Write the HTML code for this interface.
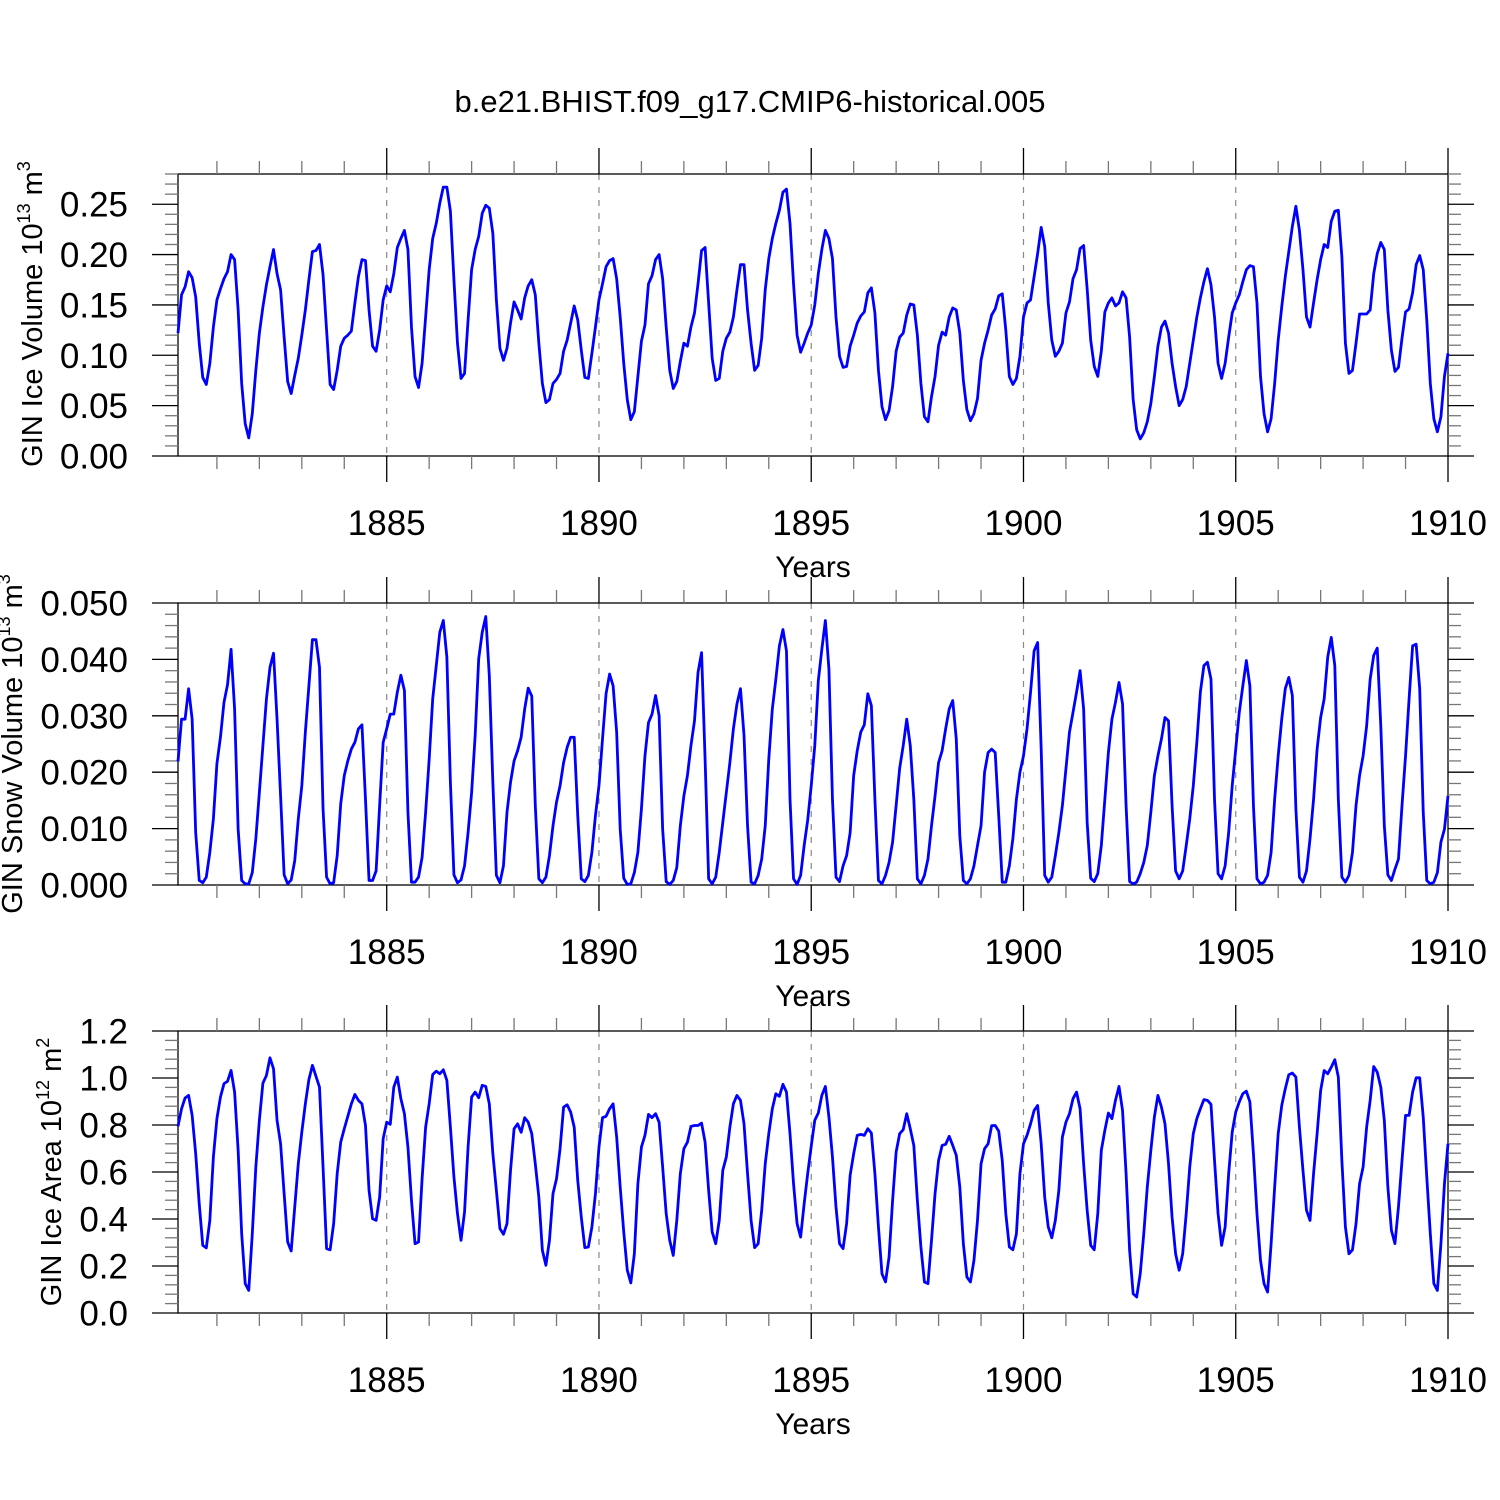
<!DOCTYPE html>
<html><head><meta charset="utf-8">
<style>
html,body{margin:0;padding:0;background:#fff;}
svg{display:block;font-family:"Liberation Sans",Arial,sans-serif;}
</style></head>
<body>
<svg id="chart" width="1500" height="1500" viewBox="0 0 1500 1500" xmlns="http://www.w3.org/2000/svg">
<rect x="0" y="0" width="1500" height="1500" fill="#fff"/>
<text x="750" y="112" font-size="31" text-anchor="middle">b.e21.BHIST.f09_g17.CMIP6-historical.005</text>
<g id="panels"></g>
</svg>
<script>
const iceVolume = [0.122,0.160,0.168,0.183,0.177,0.158,0.112,0.078,0.071,0.092,0.128,0.155,
0.166,0.176,0.183,0.200,0.195,0.145,0.072,0.032,0.018,0.042,0.085,0.122,
0.148,0.170,0.188,0.205,0.181,0.165,0.118,0.074,0.062,0.080,0.097,0.120,
0.145,0.175,0.203,0.204,0.210,0.180,0.125,0.071,0.066,0.085,0.109,0.117,
0.120,0.124,0.152,0.178,0.195,0.194,0.145,0.109,0.104,0.125,0.155,0.169,
0.163,0.181,0.207,0.216,0.224,0.205,0.128,0.079,0.068,0.092,0.138,0.185,
0.216,0.231,0.251,0.267,0.267,0.243,0.175,0.112,0.077,0.082,0.135,0.185,
0.205,0.218,0.241,0.249,0.246,0.221,0.155,0.107,0.095,0.107,0.132,0.153,
0.145,0.136,0.157,0.169,0.175,0.160,0.112,0.072,0.053,0.056,0.072,0.076,
0.082,0.104,0.115,0.132,0.149,0.135,0.105,0.078,0.077,0.102,0.128,0.155,
0.171,0.188,0.194,0.196,0.176,0.138,0.092,0.056,0.036,0.044,0.079,0.114,
0.130,0.171,0.179,0.195,0.200,0.176,0.128,0.085,0.067,0.074,0.094,0.112,
0.109,0.128,0.142,0.171,0.204,0.207,0.152,0.097,0.075,0.077,0.104,0.117,
0.123,0.138,0.165,0.190,0.190,0.145,0.112,0.085,0.090,0.117,0.165,0.196,
0.216,0.231,0.244,0.262,0.265,0.231,0.171,0.120,0.103,0.112,0.122,0.130,
0.150,0.181,0.205,0.224,0.216,0.196,0.138,0.099,0.088,0.089,0.109,0.120,
0.132,0.139,0.143,0.162,0.167,0.142,0.085,0.049,0.036,0.045,0.069,0.104,
0.118,0.122,0.140,0.151,0.150,0.120,0.072,0.039,0.034,0.059,0.079,0.110,
0.123,0.120,0.138,0.147,0.145,0.122,0.075,0.046,0.035,0.042,0.057,0.095,
0.112,0.125,0.140,0.146,0.159,0.161,0.125,0.079,0.071,0.077,0.099,0.138,
0.152,0.155,0.178,0.201,0.227,0.208,0.152,0.115,0.099,0.104,0.112,0.142,
0.153,0.176,0.185,0.206,0.209,0.166,0.115,0.089,0.079,0.104,0.143,0.152,
0.157,0.149,0.152,0.163,0.157,0.118,0.056,0.026,0.017,0.023,0.034,0.052,
0.079,0.109,0.128,0.134,0.122,0.092,0.069,0.050,0.056,0.069,0.092,0.115,
0.138,0.157,0.173,0.186,0.170,0.138,0.092,0.077,0.092,0.118,0.142,0.152,
0.160,0.173,0.185,0.189,0.188,0.152,0.079,0.042,0.024,0.037,0.072,0.115,
0.148,0.178,0.203,0.228,0.248,0.224,0.185,0.138,0.128,0.152,0.175,0.195,
0.210,0.207,0.233,0.243,0.244,0.198,0.112,0.082,0.085,0.112,0.141,0.141,
0.141,0.145,0.181,0.201,0.212,0.205,0.145,0.105,0.084,0.088,0.117,0.143,
0.146,0.162,0.190,0.199,0.185,0.135,0.072,0.037,0.024,0.039,0.079,0.102];

const snowVolume = [0.0219,0.0294,0.0294,0.0348,0.0294,0.0093,0.0008,0.0004,0.0014,0.0058,0.0117,0.0215,
0.0262,0.0324,0.0355,0.0418,0.0312,0.0099,0.0008,0.0002,0.0002,0.0022,0.0082,0.0164,
0.0247,0.0330,0.0386,0.0411,0.0294,0.0158,0.0018,0.0002,0.0009,0.0043,0.0117,0.0176,
0.0271,0.0353,0.0435,0.0435,0.0386,0.0135,0.0014,0.0002,0.0004,0.0052,0.0144,0.0194,
0.0220,0.0241,0.0253,0.0277,0.0284,0.0152,0.0008,0.0008,0.0025,0.0141,0.0253,0.0277,
0.0303,0.0303,0.0342,0.0372,0.0345,0.0129,0.0005,0.0005,0.0014,0.0049,0.0129,0.0223,
0.0330,0.0389,0.0448,0.0469,0.0404,0.0182,0.0018,0.0004,0.0009,0.0034,0.0093,0.0164,
0.0265,0.0401,0.0448,0.0476,0.0371,0.0182,0.0017,0.0004,0.0034,0.0129,0.0182,0.0220,
0.0238,0.0262,0.0312,0.0349,0.0335,0.0141,0.0011,0.0004,0.0014,0.0052,0.0105,0.0147,
0.0176,0.0217,0.0244,0.0262,0.0262,0.0123,0.0011,0.0006,0.0017,0.0058,0.0123,0.0176,
0.0259,0.0339,0.0374,0.0353,0.0271,0.0099,0.0012,0.0001,0.0002,0.0022,0.0058,0.0135,
0.0229,0.0288,0.0303,0.0336,0.0300,0.0099,0.0006,0.0001,0.0008,0.0031,0.0105,0.0158,
0.0194,0.0247,0.0291,0.0377,0.0412,0.0223,0.0011,0.0002,0.0014,0.0058,0.0111,0.0164,
0.0217,0.0277,0.0321,0.0348,0.0265,0.0105,0.0005,0.0002,0.0017,0.0046,0.0105,0.0223,
0.0312,0.0365,0.0424,0.0453,0.0415,0.0152,0.0011,0.0001,0.0017,0.0070,0.0115,0.0176,
0.0247,0.0362,0.0418,0.0469,0.0383,0.0152,0.0014,0.0006,0.0034,0.0052,0.0093,0.0194,
0.0238,0.0271,0.0284,0.0339,0.0318,0.0152,0.0008,0.0002,0.0017,0.0040,0.0076,0.0141,
0.0207,0.0247,0.0294,0.0247,0.0152,0.0011,0.0002,0.0017,0.0046,0.0105,0.0158,0.0217,
0.0238,0.0277,0.0312,0.0327,0.0259,0.0087,0.0008,0.0002,0.0011,0.0034,0.0070,0.0105,
0.0200,0.0235,0.0241,0.0235,0.0123,0.0005,0.0005,0.0034,0.0082,0.0152,0.0200,0.0229,
0.0277,0.0342,0.0415,0.0430,0.0241,0.0017,0.0005,0.0014,0.0052,0.0093,0.0141,0.0206,
0.0271,0.0306,0.0342,0.0380,0.0312,0.0111,0.0012,0.0006,0.0020,0.0070,0.0152,0.0235,
0.0294,0.0324,0.0359,0.0321,0.0141,0.0006,0.0002,0.0005,0.0020,0.0040,0.0070,0.0129,
0.0194,0.0229,0.0259,0.0297,0.0291,0.0141,0.0025,0.0011,0.0025,0.0070,0.0117,0.0176,
0.0253,0.0342,0.0389,0.0395,0.0365,0.0152,0.0020,0.0011,0.0034,0.0093,0.0176,0.0241,
0.0306,0.0353,0.0398,0.0353,0.0141,0.0011,0.0002,0.0005,0.0017,0.0058,0.0152,0.0229,
0.0294,0.0348,0.0368,0.0336,0.0135,0.0014,0.0005,0.0025,0.0082,0.0152,0.0241,0.0297,
0.0330,0.0404,0.0439,0.0389,0.0152,0.0014,0.0005,0.0017,0.0058,0.0141,0.0194,0.0229,
0.0282,0.0365,0.0407,0.0420,0.0282,0.0105,0.0018,0.0008,0.0028,0.0046,0.0141,0.0229,
0.0330,0.0424,0.0427,0.0348,0.0129,0.0008,0.0002,0.0005,0.0022,0.0076,0.0099,0.0158];

const iceArea = [0.794,0.869,0.915,0.926,0.841,0.678,0.465,0.288,0.277,0.394,0.664,0.827,
0.919,0.976,0.986,1.032,0.940,0.692,0.337,0.125,0.096,0.337,0.621,0.820,
0.978,1.011,1.086,1.039,0.820,0.720,0.508,0.302,0.264,0.451,0.635,0.770,
0.890,0.993,1.054,1.007,0.961,0.621,0.274,0.269,0.380,0.593,0.727,0.784,
0.837,0.890,0.930,0.905,0.890,0.798,0.522,0.401,0.394,0.493,0.742,0.812,
0.803,0.961,1.004,0.912,0.848,0.706,0.479,0.295,0.302,0.571,0.791,0.890,
1.015,1.029,1.018,1.035,0.990,0.791,0.579,0.423,0.309,0.430,0.706,0.919,
0.940,0.916,0.969,0.964,0.890,0.678,0.522,0.359,0.335,0.380,0.607,0.784,
0.805,0.769,0.831,0.812,0.763,0.635,0.493,0.267,0.203,0.309,0.508,0.571,
0.699,0.876,0.886,0.855,0.791,0.564,0.408,0.278,0.281,0.366,0.508,0.706,
0.831,0.837,0.869,0.890,0.749,0.536,0.345,0.182,0.128,0.252,0.550,0.706,
0.756,0.845,0.831,0.848,0.812,0.621,0.423,0.309,0.245,0.394,0.593,0.699,
0.727,0.794,0.798,0.798,0.808,0.727,0.522,0.345,0.295,0.394,0.607,0.664,
0.791,0.890,0.926,0.905,0.805,0.593,0.394,0.278,0.295,0.437,0.635,0.763,
0.869,0.933,0.922,0.973,0.940,0.763,0.550,0.380,0.323,0.465,0.593,0.710,
0.820,0.851,0.926,0.964,0.834,0.664,0.451,0.295,0.274,0.380,0.586,0.678,
0.756,0.760,0.756,0.784,0.766,0.593,0.366,0.167,0.132,0.238,0.479,0.685,
0.763,0.780,0.848,0.784,0.713,0.479,0.281,0.132,0.125,0.309,0.508,0.649,
0.713,0.718,0.752,0.713,0.671,0.536,0.295,0.153,0.132,0.224,0.394,0.635,
0.699,0.720,0.797,0.798,0.774,0.649,0.423,0.281,0.269,0.337,0.593,0.720,
0.756,0.805,0.862,0.883,0.720,0.493,0.366,0.320,0.394,0.522,0.749,0.812,
0.848,0.912,0.940,0.869,0.635,0.437,0.288,0.269,0.423,0.692,0.777,0.851,
0.827,0.905,0.964,0.862,0.593,0.267,0.082,0.068,0.167,0.337,0.536,0.692,
0.834,0.926,0.876,0.805,0.635,0.408,0.252,0.182,0.252,0.423,0.621,0.763,
0.827,0.869,0.908,0.905,0.888,0.649,0.423,0.288,0.366,0.593,0.770,0.855,
0.898,0.933,0.944,0.898,0.678,0.423,0.224,0.125,0.089,0.295,0.536,0.763,
0.883,0.954,1.014,1.021,1.004,0.791,0.607,0.437,0.394,0.593,0.763,0.947,
1.032,1.018,1.046,1.078,1.004,0.649,0.366,0.252,0.269,0.380,0.550,0.621,
0.791,0.905,1.049,1.025,0.961,0.820,0.536,0.352,0.295,0.451,0.649,0.841,
0.841,0.940,1.001,1.001,0.834,0.579,0.337,0.125,0.096,0.295,0.550,0.720];

const xTickYears = [1885, 1890, 1895, 1900, 1905, 1910];
const volTicks = [0.00, 0.05, 0.10, 0.15, 0.20, 0.25];
const volLabels = ["0.00","0.05","0.10","0.15","0.20","0.25"];
const snowTicks = [0, 0.01, 0.02, 0.03, 0.04, 0.05];
const snowLabels = ["0.000","0.010","0.020","0.030","0.040","0.050"];
const areaTicks = [0, 0.2, 0.4, 0.6, 0.8, 1.0, 1.2];
const areaLabels = ["0.0","0.2","0.4","0.6","0.8","1.0","1.2"];

const NS = "http://www.w3.org/2000/svg";
const X0 = 178, X1 = 1448, T0 = 1880 + 1/12, T1 = 1910;
function xScale(t){ return X0 + (t - T0) / (T1 - T0) * (X1 - X0); }
function timeOf(i){ return 1880 + (i + 1) / 12; }
function mk(tag, attrs, parent){
  const e = document.createElementNS(NS, tag);
  for (const k in attrs) e.setAttribute(k, attrs[k]);
  parent.appendChild(e);
  return e;
}
const root = document.getElementById('panels');

const panels = [
  {key:'ice-volume', top:174, ymax:0.28, minor:0.01, data:iceVolume, ticks:volTicks, labels:volLabels,
   titleX:42, titleY:314, base:'GIN Ice Volume 10', sup1:'13', unit:' m', sup2:'3', labelX:128},
  {key:'snow-volume', top:603, ymax:0.05, minor:0.002, data:snowVolume, ticks:snowTicks, labels:snowLabels,
   titleX:22, titleY:744, base:'GIN Snow Volume 10', sup1:'13', unit:' m', sup2:'3', labelX:128},
  {key:'ice-area', top:1031, ymax:1.2, minor:0.04, data:iceArea, ticks:areaTicks, labels:areaLabels,
   titleX:61, titleY:1172, base:'GIN Ice Area 10', sup1:'12', unit:' m', sup2:'2', labelX:128}
];

panels.forEach(p => {
  const H = 282, bottom = p.top + H;
  const yScale = v => bottom - v / p.ymax * H;
  const g = mk('g', {}, root);
  
  

  xTickYears.forEach(yr => {
    if (yr >= 1910) return;
    const x = xScale(yr);
    const l = mk('line', {x1:x, x2:x, y1:p.top, y2:bottom, stroke:'#888', 'stroke-width':1.2, 'stroke-dasharray':'6,7'}, g);
    
    
  });

  const fr = mk('rect', {x:X0, y:p.top, width:X1-X0, height:H, fill:'none', stroke:'#000', 'stroke-width':1.3}, g);
  
  

  const xt = mk('g', {stroke:'#000', 'stroke-width':1.3}, g);
  
  
  for (let yr = 1881; yr <= 1910; yr++) {
    const x = xScale(yr);
    const major = yr % 5 === 0;
    const len = major ? 26 : 13;
    mk('line', {x1:x, x2:x, y1:p.top, y2:p.top - len, stroke: major ? '#000' : '#777'}, xt);
    mk('line', {x1:x, x2:x, y1:bottom, y2:bottom + len, stroke: major ? '#000' : '#777'}, xt);
  }
  xTickYears.forEach(yr => {
    const t = mk('text', {x:xScale(yr), y:bottom + 79, 'font-size':35, 'text-anchor':'middle'}, g);
    t.textContent = String(yr);
    
    
  });
  const xl = mk('text', {x:813, y:bottom + 121, 'font-size':30, 'text-anchor':'middle'}, g);
  xl.textContent = 'Years';
  
  

  const yt = mk('g', {'stroke-width':1.3}, g);
  
  
  const nMinor = Math.round(p.ymax / p.minor);
  for (let k = 0; k <= nMinor; k++) {
    const v = k * p.minor;
    const y = yScale(v);
    const isMajor = p.ticks.some(tv => Math.abs(tv - v) < p.minor / 10);
    const len = isMajor ? 26 : 13;
    const col = isMajor ? '#000' : '#777';
    mk('line', {x1:X0, x2:X0 - len, y1:y, y2:y, stroke:col}, yt);
    mk('line', {x1:X1, x2:X1 + len, y1:y, y2:y, stroke:col}, yt);
  }
  p.ticks.forEach((v, k) => {
    const t = mk('text', {x:p.labelX, y:yScale(v) + 12.5, 'font-size':35, 'text-anchor':'end'}, g);
    t.textContent = p.labels[k];
    
    
  });

  const yl = mk('text', {x:0, y:0, 'font-size':29, 'text-anchor':'middle', transform:'translate(' + p.titleX + ',' + p.titleY + ') rotate(-90)'}, g);
  
  
  const s0 = mk('tspan', {}, yl); s0.textContent = p.base;
  const s1 = mk('tspan', {dy:-12, 'font-size':18}, yl); s1.textContent = p.sup1;
  const s2 = mk('tspan', {dy:12}, yl); s2.textContent = p.unit;
  const s3 = mk('tspan', {dy:-12, 'font-size':18}, yl); s3.textContent = p.sup2;

  const pts = p.data.map((v, i) => xScale(timeOf(i)).toFixed(2) + ',' + yScale(v).toFixed(2)).join(' ');
  const pl = mk('polyline', {points:pts, fill:'none', stroke:'#0000ff', 'stroke-width':2.8, 'stroke-linejoin':'round'}, g);
  
  
});
</script>
</body></html>
